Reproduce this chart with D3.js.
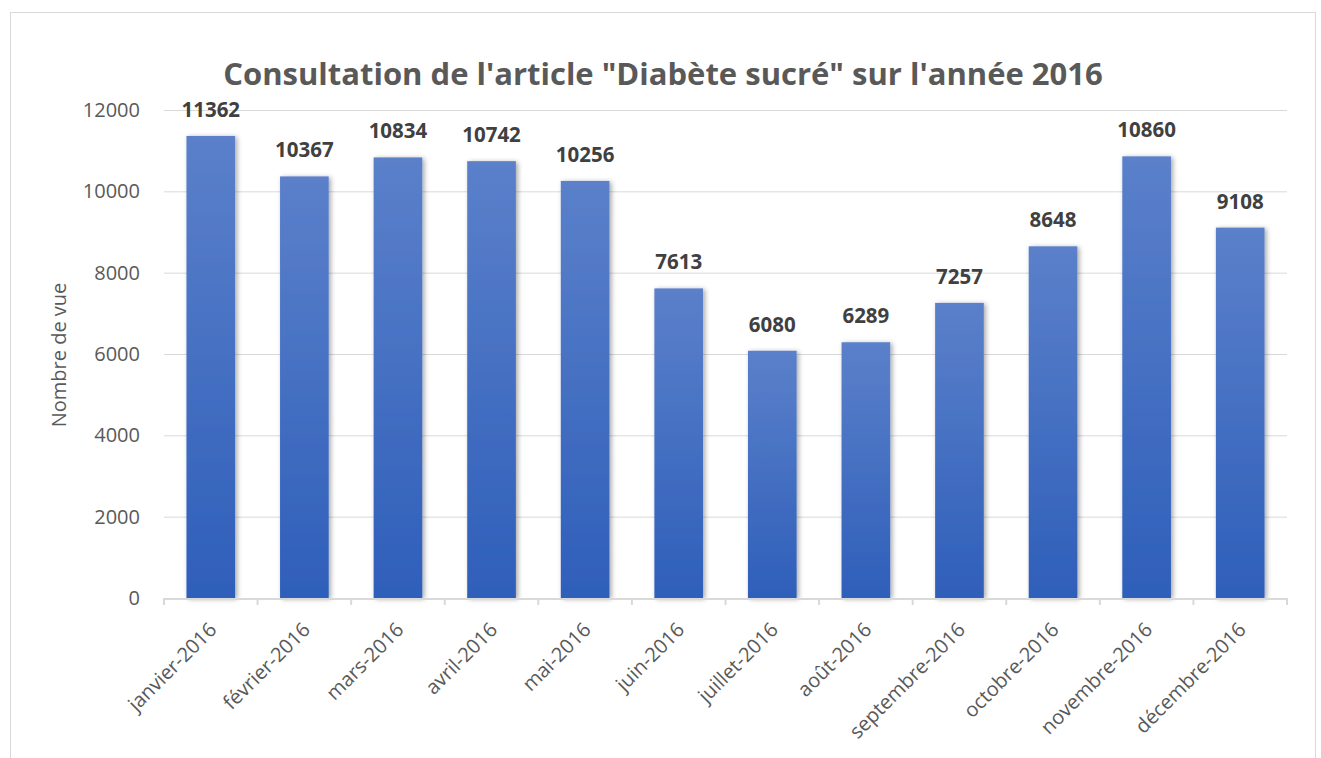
<!DOCTYPE html>
<html><head><meta charset="utf-8">
<script src="https://cdn.jsdelivr.net/npm/d3@7"></script>
<style>body{margin:0;background:#fff;}svg{display:block;}</style>
</head><body>
<script>
const categories = ["janvier-2016","février-2016","mars-2016","avril-2016","mai-2016","juin-2016","juillet-2016","août-2016","septembre-2016","octobre-2016","novembre-2016","décembre-2016"];
const values = [11362,10367,10834,10742,10256,7613,6080,6289,7257,8648,10860,9108];
const yTicks = [0,2000,4000,6000,8000,10000,12000];
const titleText = "Consultation de l'article \"Diabète sucré\" sur l'année 2016";
const yTitle = "Nombre de vue";

const W = 1321, H = 758;
const svg = d3.select("body").append("svg").attr("width", W).attr("height", H);
const font = "'Open Sans', 'Noto Sans', sans-serif";

const defs = svg.append("defs");
const grad = defs.append("linearGradient").attr("id","barGrad").attr("x1",0).attr("y1",0).attr("x2",0).attr("y2",1);
grad.append("stop").attr("offset","0%").attr("stop-color","#5b80ca");
grad.append("stop").attr("offset","100%").attr("stop-color","#2e5fba");
const f = defs.append("filter").attr("id","shadow").attr("x","-30%").attr("y","-10%").attr("width","160%").attr("height","120%");
f.append("feDropShadow").attr("dx",2).attr("dy",1).attr("stdDeviation",2.5).attr("flood-color","#000").attr("flood-opacity",0.35);

// outer border
svg.append("rect").attr("x",10.5).attr("y",12.5).attr("width",1305).attr("height",760).attr("fill","none").attr("stroke","#d9d9d9").attr("stroke-width",1);

const x = d3.scaleBand().domain(categories).range([164,1287]).paddingInner(0.48).paddingOuter(0.24);
const y = d3.scaleLinear().domain([0,12000]).range([598,110]);

// gridlines
svg.append("g").selectAll("line").data(yTicks.filter(d=>d>0)).join("line")
  .attr("x1",164).attr("x2",1287).attr("y1",d=>y(d)+0.5).attr("y2",d=>y(d)+0.5)
  .attr("stroke","#d9d9d9").attr("stroke-width",1);

// y labels
const yAxis = svg.append("g").attr("transform","translate(164,0)")
  .call(d3.axisLeft(y).tickValues(yTicks).tickSize(0).tickPadding(24).tickFormat(d3.format("d")));
yAxis.select(".domain").remove();
yAxis.selectAll("text").attr("font-family",font).attr("font-size",20).attr("fill","#595959");

// bars
svg.append("g").selectAll("rect").data(values).join("rect")
  .attr("x",(d,i)=>x(categories[i])).attr("width",x.bandwidth())
  .attr("y",d=>y(d)).attr("height",d=>y(0)-y(d))
  .attr("fill","url(#barGrad)").attr("filter","url(#shadow)");

// x axis
const xAxis = svg.append("g").attr("transform","translate(0,598)");
xAxis.append("line").attr("x1",164).attr("x2",1287).attr("y1",1).attr("y2",1).attr("stroke","#d9d9d9").attr("stroke-width",2);
const bounds = d3.range(categories.length+1).map(i=>164+i*((1287-164)/categories.length));
xAxis.selectAll("line.tk").data(bounds).join("line").attr("class","tk")
  .attr("x1",d=>d).attr("x2",d=>d).attr("y1",0).attr("y2",7).attr("stroke","#d9d9d9").attr("stroke-width",2);
xAxis.selectAll("text").data(categories).join("text")
  .attr("transform",d=>`translate(${x(d)+x.bandwidth()/2+2},28) rotate(-45)`)
  .attr("text-anchor","end").attr("dy","0.35em")
  .attr("font-family",font).attr("font-size",20).attr("fill","#595959").text(d=>d);

// data labels
svg.append("g").selectAll("text").data(values).join("text")
  .attr("x",(d,i)=>x(categories[i])+x.bandwidth()/2).attr("y",d=>y(d)-19)
  .attr("text-anchor","middle").attr("font-family",font).attr("font-weight","bold")
  .attr("font-size",20.5).attr("fill","#404040").text(d=>d);

// title
svg.append("text").attr("x",663).attr("y",85).attr("text-anchor","middle")
  .attr("font-family",font).attr("font-weight","bold").attr("font-size",31).attr("fill","#595959").text(titleText);

// y title
svg.append("text").attr("transform","translate(66,355) rotate(-90)").attr("text-anchor","middle")
  .attr("font-family",font).attr("font-size",20).attr("fill","#595959").text(yTitle);
</script>
</body></html>
